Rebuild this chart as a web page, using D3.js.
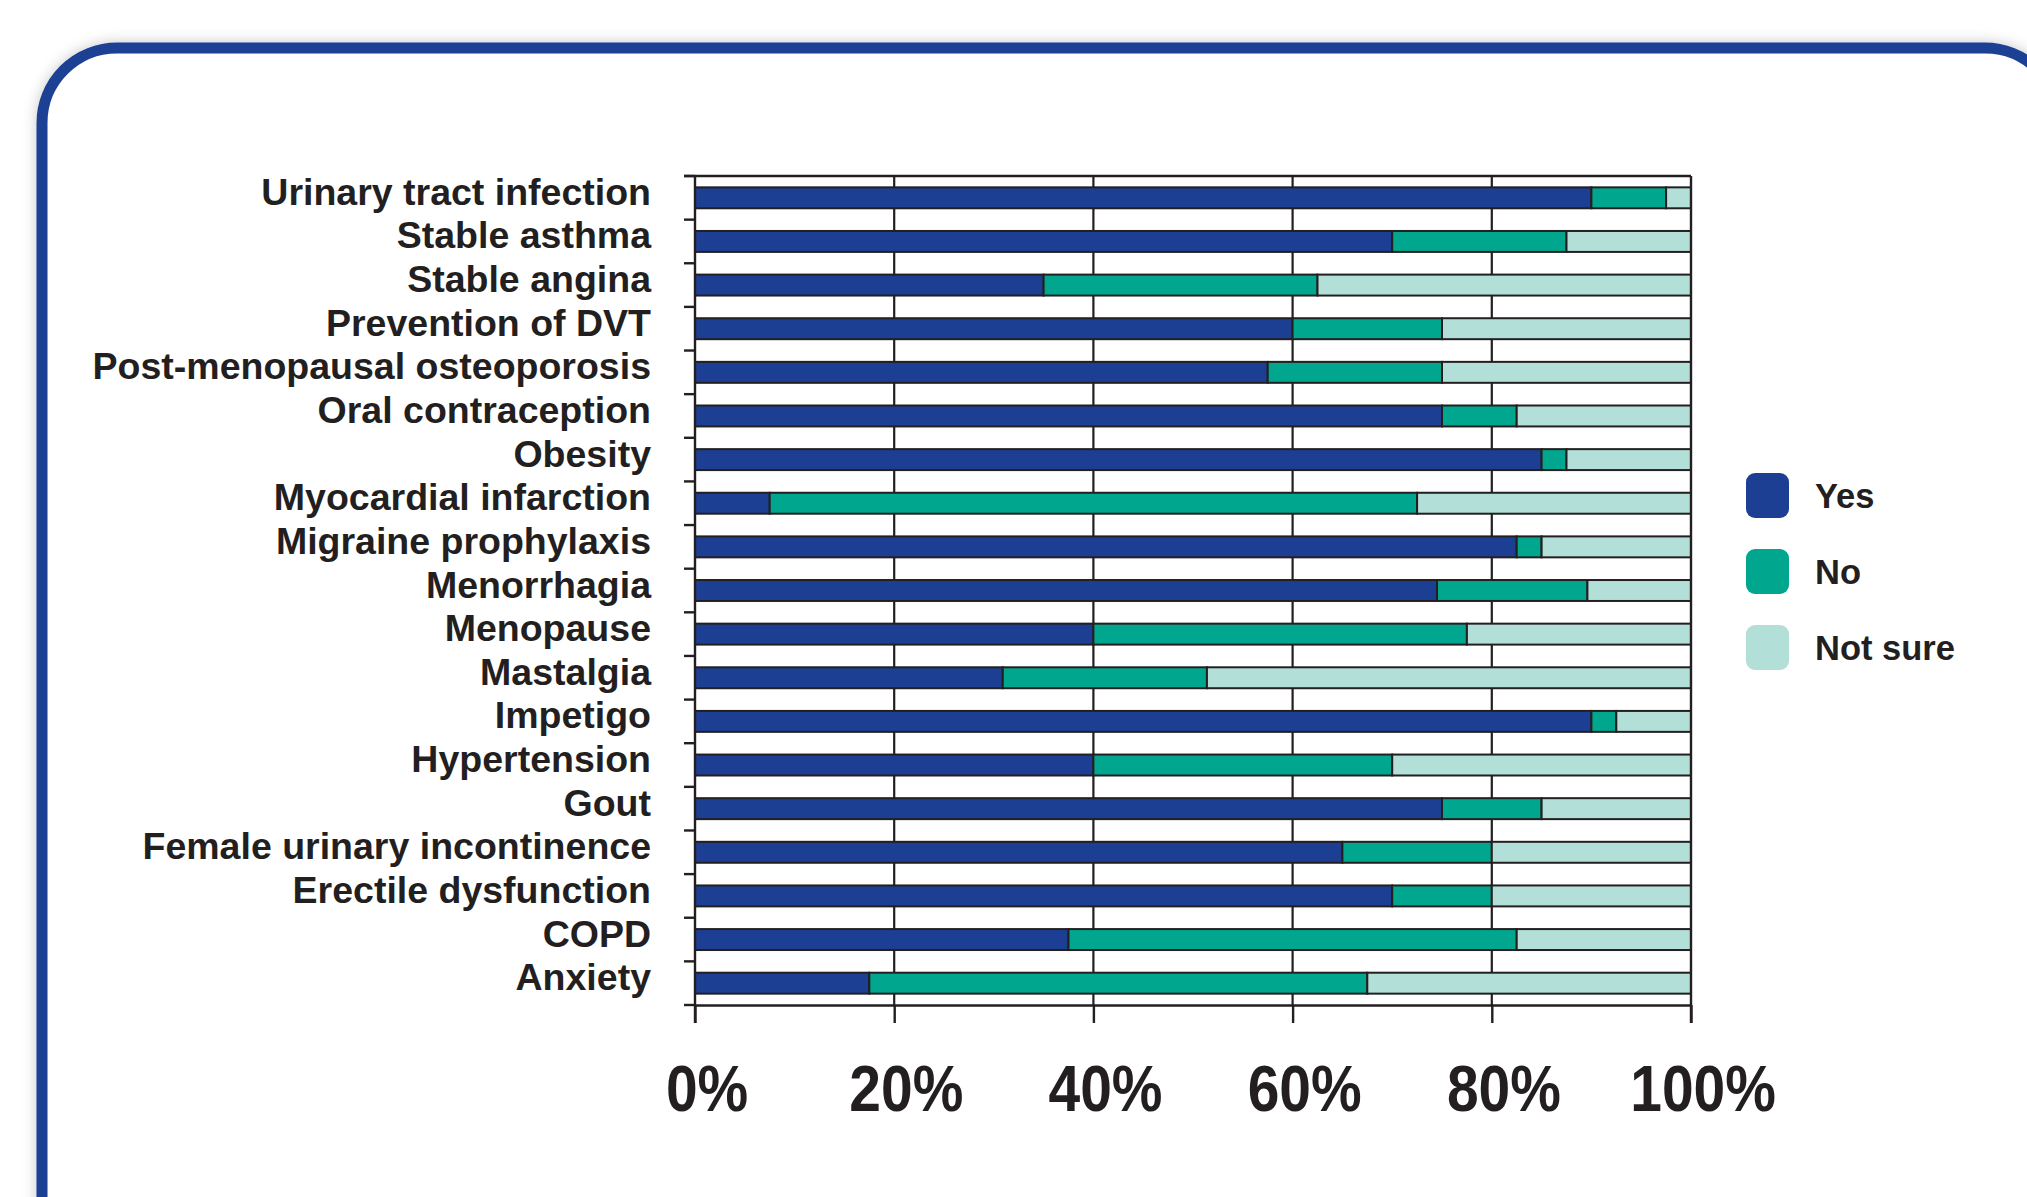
<!DOCTYPE html>
<html>
<head>
<meta charset="utf-8">
<script src="https://cdn.jsdelivr.net/npm/d3@7"></script>
<style>
  html, body { margin: 0; padding: 0; background: #ffffff; }
  svg { display: block; }
</style>
</head>
<body>
<svg id="chart" width="2027" height="1197"></svg>
<script>
// Survey answers per condition (percent of respondents)
const categories = [
  "Urinary tract infection", "Stable asthma", "Stable angina", "Prevention of DVT",
  "Post-menopausal osteoporosis", "Oral contraception", "Obesity", "Myocardial infarction",
  "Migraine prophylaxis", "Menorrhagia", "Menopause", "Mastalgia", "Impetigo",
  "Hypertension", "Gout", "Female urinary incontinence", "Erectile dysfunction",
  "COPD", "Anxiety"
];
const yesPct     = [90, 70, 35, 60, 57.5, 75, 85, 7.5, 82.5, 74.5, 40, 30.9, 90, 40, 75, 65, 70, 37.5, 17.5];
const noPct      = [7.5, 17.5, 27.5, 15, 17.5, 7.5, 2.5, 65, 2.5, 15.1, 37.5, 20.5, 2.5, 30, 10, 15, 10, 45, 50];
const notSurePct = [2.5, 12.5, 37.5, 25, 25, 17.5, 12.5, 27.5, 15, 10.4, 22.5, 48.6, 7.5, 30, 15, 20, 20, 17.5, 32.5];

const seriesKeys   = ["Yes", "No", "Not sure"];
const seriesColors = ["#1c3f94", "#00a78e", "#b2dfd8"];
const xTicks = [0, 20, 40, 60, 80, 100];

const ink = "#231f20";
const svg = d3.select("#chart");

// Card frame with a soft shadow
const defs = svg.append("defs");
const shadow = defs.append("filter").attr("id", "cardShadow")
  .attr("x", "-5%").attr("y", "-5%").attr("width", "110%").attr("height", "110%");
shadow.append("feDropShadow")
  .attr("dx", 0).attr("dy", 0).attr("stdDeviation", 7)
  .attr("flood-color", "#000").attr("flood-opacity", 0.22);

svg.append("rect")
  .attr("x", 42).attr("y", 48)
  .attr("width", 2018).attr("height", 1300)
  .attr("rx", 75).attr("ry", 75)
  .attr("fill", "#ffffff")
  .attr("stroke", "#1c3f94").attr("stroke-width", 11)
  .attr("filter", "url(#cardShadow)");

// Scales
const x = d3.scaleLinear().domain([0, 100]).range([695, 1691]);
const y = d3.scaleBand().domain(categories).range([176, 1005])
  .paddingInner(0.52).paddingOuter(0.26);
const color = d3.scaleOrdinal().domain(seriesKeys).range(seriesColors);

const rows = categories.map((c, i) => ({
  category: c, "Yes": yesPct[i], "No": noPct[i], "Not sure": notSurePct[i]
}));
const stacked = d3.stack().keys(seriesKeys)(rows);

// Vertical gridlines behind the bars
svg.append("g").selectAll("line")
  .data(xTicks.filter(t => t > 0 && t < 100))
  .join("line")
  .attr("x1", d => x(d)).attr("x2", d => x(d))
  .attr("y1", 176).attr("y2", 1005)
  .attr("stroke", ink).attr("stroke-width", 2.2);

// Stacked bars
svg.append("g").selectAll("g")
  .data(stacked)
  .join("g")
  .attr("fill", d => color(d.key))
  .selectAll("rect")
  .data(d => d)
  .join("rect")
  .attr("x", d => x(d[0]))
  .attr("width", d => x(d[1]) - x(d[0]))
  .attr("y", d => y(d.data.category))
  .attr("height", y.bandwidth())
  .attr("stroke", ink).attr("stroke-width", 2);

// Top frame line and right edge (100%)
svg.append("line")
  .attr("x1", 684).attr("x2", x(100)).attr("y1", 176).attr("y2", 176)
  .attr("stroke", ink).attr("stroke-width", 2.4);
svg.append("line")
  .attr("x1", x(100)).attr("x2", x(100)).attr("y1", 176).attr("y2", 1023)
  .attr("stroke", ink).attr("stroke-width", 2.4);

// Left axis with ticks between categories
const gap = y.step() - y.bandwidth();
const boundaries = categories.map(c => y(c) - gap / 2).concat([y(categories[categories.length - 1]) + y.bandwidth() + gap / 2]);
svg.append("line")
  .attr("x1", x(0)).attr("x2", x(0)).attr("y1", 176).attr("y2", 1023)
  .attr("stroke", ink).attr("stroke-width", 2.4);
svg.append("g").selectAll("line")
  .data(boundaries)
  .join("line")
  .attr("x1", 684).attr("x2", x(0))
  .attr("y1", d => d).attr("y2", d => d)
  .attr("stroke", ink).attr("stroke-width", 2.4);

// Category labels
svg.append("g").selectAll("text")
  .data(categories)
  .join("text")
  .attr("x", 651)
  .attr("y", d => y(d) + y.bandwidth() / 2 + 7)
  .attr("text-anchor", "end")
  .attr("font-family", "'Liberation Sans', Arial, sans-serif")
  .attr("font-weight", "bold")
  .attr("font-size", 37.5)
  .attr("fill", ink)
  .text(d => d);

// Bottom axis
const xAxis = d3.axisBottom(x)
  .tickValues(xTicks)
  .tickSize(18)
  .tickSizeOuter(0)
  .tickPadding(43)
  .tickFormat(d => d + "%");
const gx = svg.append("g").attr("transform", "translate(0,1005)").call(xAxis);
gx.select(".domain").attr("stroke", ink).attr("stroke-width", 2.4);
gx.selectAll(".tick line").attr("stroke", ink).attr("stroke-width", 2.4);
gx.selectAll(".tick text")
  .attr("fill", ink)
  .attr("font-family", "'Liberation Sans', Arial, sans-serif")
  .attr("font-weight", "bold")
  .attr("font-size", 64)
  .attr("dx", 13)
  .attr("transform", "scale(0.89,1)");

// Legend
const legend = svg.append("g").attr("transform", "translate(1746,473)");
const item = legend.selectAll("g")
  .data(seriesKeys)
  .join("g")
  .attr("transform", (d, i) => `translate(0,${i * 76})`);
item.append("rect")
  .attr("width", 43).attr("height", 45)
  .attr("rx", 9).attr("ry", 9)
  .attr("fill", d => color(d));
item.append("text")
  .attr("x", 69).attr("y", 35)
  .attr("font-family", "'Liberation Sans', Arial, sans-serif")
  .attr("font-weight", "bold")
  .attr("font-size", 34.5)
  .attr("fill", ink)
  .text(d => d);
</script>
</body>
</html>
